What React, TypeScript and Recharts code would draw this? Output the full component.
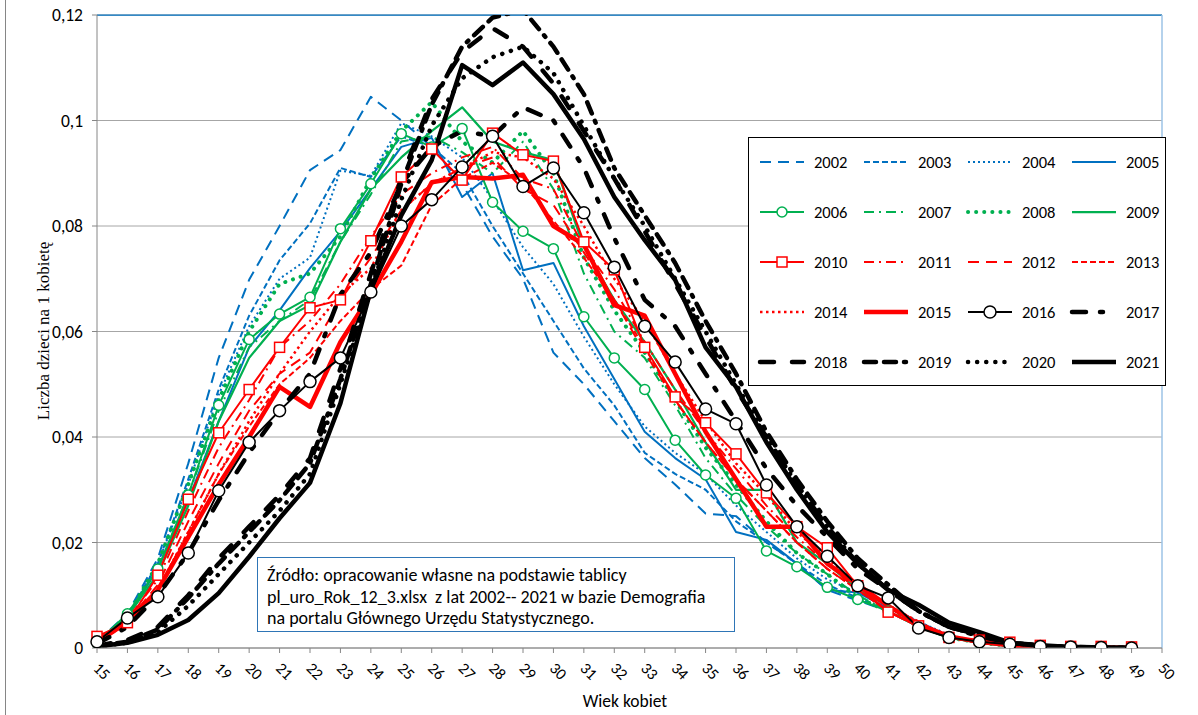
import React from 'react';
import { LineChart, Line, XAxis, YAxis, CartesianGrid, Legend, ReferenceLine } from 'recharts';

// Wiek kobiet (15-49)
const ages = [15, 16, 17, 18, 19, 20, 21, 22, 23, 24, 25, 26, 27, 28, 29, 30, 31, 32, 33, 34, 35, 36, 37, 38, 39, 40, 41, 42, 43, 44, 45, 46, 47, 48, 49];

const xTicks = [15, 16, 17, 18, 19, 20, 21, 22, 23, 24, 25, 26, 27, 28, 29, 30, 31, 32, 33, 34, 35, 36, 37, 38, 39, 40, 41, 42, 43, 44, 45, 46, 47, 48, 49, 50];
const yTicks = [0, 0.02, 0.04, 0.06, 0.08, 0.1, 0.12];

// liczba dzieci na 1 kobietę, per rok
const y2002 = [0.0012, 0.0065, 0.017, 0.035, 0.055, 0.0698, 0.080, 0.0906, 0.0944, 0.1045, 0.100, 0.095, 0.088, 0.078, 0.070, 0.056, 0.050, 0.043, 0.036, 0.031, 0.0255, 0.025, 0.020, 0.016, 0.011, 0.009, 0.007, 0.004, 0.002, 0.0012, 0.0005, 0.0002, 0.0001, 0.0001, 0];
const y2003 = [0.0011, 0.006, 0.016, 0.032, 0.049, 0.063, 0.0735, 0.0805, 0.091, 0.0893, 0.097, 0.095, 0.090, 0.080, 0.071, 0.062, 0.053, 0.046, 0.037, 0.033, 0.030, 0.024, 0.020, 0.016, 0.012, 0.0095, 0.007, 0.004, 0.002, 0.001, 0.0004, 0.0002, 0.0001, 0.0001, 0];
const y2004 = [0.001, 0.006, 0.016, 0.031, 0.048, 0.061, 0.070, 0.074, 0.0905, 0.0895, 0.0995, 0.097, 0.093, 0.085, 0.076, 0.069, 0.059, 0.050, 0.042, 0.037, 0.033, 0.027, 0.022, 0.017, 0.013, 0.0105, 0.008, 0.005, 0.0025, 0.0012, 0.0005, 0.0002, 0.0001, 0.0001, 0];
const y2005 = [0.001, 0.006, 0.015, 0.028, 0.043, 0.057, 0.064, 0.072, 0.079, 0.087, 0.095, 0.0967, 0.0855, 0.090, 0.0716, 0.073, 0.061, 0.051, 0.041, 0.036, 0.032, 0.022, 0.0205, 0.016, 0.011, 0.0105, 0.0075, 0.005, 0.0022, 0.001, 0.0004, 0.0002, 0.0001, 0, 0];
const y2006 = [0.001, 0.0065, 0.015, 0.029, 0.046, 0.0585, 0.0633, 0.0665, 0.0795, 0.088, 0.0975, 0.095, 0.0985, 0.0845, 0.079, 0.0757, 0.0628, 0.055, 0.049, 0.0394, 0.0328, 0.0284, 0.0184, 0.0154, 0.0115, 0.0092, 0.007, 0.004, 0.0019, 0.001, 0.0004, 0.0002, 0.0001, 0.0001, 0];
const y2007 = [0.001, 0.006, 0.015, 0.029, 0.045, 0.057, 0.062, 0.066, 0.077, 0.086, 0.096, 0.097, 0.094, 0.090, 0.096, 0.087, 0.071, 0.060, 0.055, 0.046, 0.036, 0.029, 0.023, 0.018, 0.014, 0.010, 0.007, 0.004, 0.002, 0.001, 0.0004, 0.0002, 0.0001, 0.0001, 0];
const y2008 = [0.001, 0.006, 0.016, 0.031, 0.047, 0.060, 0.069, 0.071, 0.078, 0.089, 0.098, 0.1035, 0.096, 0.092, 0.098, 0.090, 0.074, 0.064, 0.056, 0.047, 0.038, 0.031, 0.024, 0.018, 0.014, 0.0095, 0.007, 0.0045, 0.002, 0.001, 0.0004, 0.0002, 0.0001, 0.0001, 0];
const y2009 = [0.001, 0.006, 0.014, 0.027, 0.043, 0.055, 0.062, 0.065, 0.077, 0.087, 0.093, 0.098, 0.1025, 0.096, 0.094, 0.0925, 0.076, 0.066, 0.058, 0.049, 0.039, 0.030, 0.030, 0.020, 0.016, 0.011, 0.008, 0.004, 0.002, 0.001, 0.0004, 0.0002, 0.0001, 0.0001, 0];
const y2010 = [0.0022, 0.0048, 0.0138, 0.0282, 0.0408, 0.049, 0.057, 0.0645, 0.066, 0.0772, 0.0893, 0.0946, 0.0887, 0.0976, 0.0935, 0.0923, 0.077, 0.0717, 0.057, 0.0476, 0.0427, 0.0368, 0.0294, 0.023, 0.019, 0.0118, 0.0068, 0.0042, 0.002, 0.0015, 0.0011, 0.0005, 0.0003, 0.0003, 0.0002];
const y2011 = [0.0015, 0.0055, 0.013, 0.026, 0.038, 0.047, 0.057, 0.062, 0.069, 0.078, 0.086, 0.090, 0.093, 0.095, 0.089, 0.087, 0.076, 0.068, 0.058, 0.049, 0.041, 0.034, 0.027, 0.021, 0.016, 0.011, 0.007, 0.004, 0.002, 0.001, 0.0005, 0.0002, 0.0001, 0.0001, 0];
const y2012 = [0.0015, 0.005, 0.012, 0.024, 0.035, 0.045, 0.052, 0.056, 0.066, 0.074, 0.083, 0.088, 0.091, 0.093, 0.087, 0.084, 0.075, 0.066, 0.056, 0.047, 0.039, 0.032, 0.026, 0.020, 0.015, 0.011, 0.007, 0.004, 0.002, 0.001, 0.0005, 0.0002, 0.0001, 0.0001, 0];
const y2013 = [0.0012, 0.0045, 0.011, 0.022, 0.033, 0.042, 0.050, 0.055, 0.062, 0.068, 0.0725, 0.084, 0.089, 0.092, 0.088, 0.081, 0.074, 0.066, 0.057, 0.047, 0.039, 0.032, 0.026, 0.020, 0.015, 0.011, 0.007, 0.004, 0.002, 0.001, 0.0005, 0.0002, 0.0001, 0.0001, 0];
const y2014 = [0.0012, 0.0045, 0.011, 0.022, 0.033, 0.043, 0.052, 0.060, 0.067, 0.072, 0.083, 0.088, 0.091, 0.094, 0.093, 0.089, 0.080, 0.070, 0.062, 0.052, 0.043, 0.035, 0.029, 0.022, 0.017, 0.012, 0.008, 0.005, 0.002, 0.0012, 0.0005, 0.0002, 0.0001, 0.0001, 0];
const y2015 = [0.001, 0.005, 0.011, 0.021, 0.031, 0.040, 0.0495, 0.0457, 0.058, 0.067, 0.077, 0.0883, 0.0893, 0.089, 0.0897, 0.080, 0.0765, 0.065, 0.063, 0.052, 0.041, 0.032, 0.023, 0.023, 0.016, 0.012, 0.008, 0.0045, 0.0022, 0.0012, 0.0005, 0.0002, 0.0001, 0.0001, 0];
const y2016 = [0.0012, 0.0057, 0.0097, 0.018, 0.0298, 0.039, 0.045, 0.0505, 0.055, 0.0675, 0.080, 0.085, 0.0912, 0.097, 0.0875, 0.091, 0.0825, 0.0722, 0.061, 0.0542, 0.0453, 0.0425, 0.0309, 0.023, 0.0174, 0.0118, 0.0095, 0.0038, 0.002, 0.0012, 0.0007, 0.0003, 0.0002, 0.0001, 0];
const y2017 = [0.0008, 0.004, 0.010, 0.018, 0.028, 0.037, 0.045, 0.052, 0.067, 0.075, 0.088, 0.095, 0.098, 0.097, 0.1025, 0.100, 0.091, 0.0777, 0.066, 0.061, 0.052, 0.043, 0.034, 0.027, 0.021, 0.015, 0.011, 0.007, 0.004, 0.0022, 0.001, 0.0004, 0.0002, 0.0001, 0];
const y2018 = [0.0004, 0.0015, 0.004, 0.010, 0.017, 0.023, 0.029, 0.036, 0.053, 0.071, 0.089, 0.104, 0.113, 0.1175, 0.114, 0.107, 0.098, 0.089, 0.079, 0.069, 0.059, 0.049, 0.040, 0.031, 0.023, 0.016, 0.011, 0.007, 0.004, 0.0025, 0.001, 0.0004, 0.0002, 0.0001, 0];
const y2019 = [0.0003, 0.0012, 0.0035, 0.0095, 0.016, 0.022, 0.028, 0.035, 0.051, 0.069, 0.088, 0.103, 0.114, 0.1195, 0.121, 0.114, 0.105, 0.091, 0.082, 0.073, 0.062, 0.052, 0.041, 0.032, 0.024, 0.017, 0.012, 0.007, 0.004, 0.0025, 0.001, 0.0004, 0.0002, 0.0001, 0];
const y2020 = [0.0003, 0.001, 0.003, 0.008, 0.014, 0.020, 0.026, 0.033, 0.050, 0.068, 0.085, 0.099, 0.108, 0.112, 0.114, 0.109, 0.099, 0.089, 0.080, 0.070, 0.060, 0.050, 0.040, 0.031, 0.023, 0.016, 0.011, 0.007, 0.004, 0.0025, 0.001, 0.0004, 0.0002, 0.0001, 0];
const y2021 = [0.0003, 0.001, 0.0025, 0.0053, 0.0104, 0.0173, 0.0246, 0.0313, 0.0464, 0.068, 0.082, 0.0925, 0.1105, 0.1067, 0.111, 0.105, 0.0965, 0.0855, 0.0773, 0.0698, 0.057, 0.0495, 0.039, 0.030, 0.022, 0.016, 0.011, 0.0082, 0.0048, 0.003, 0.001, 0.0005, 0.0002, 0.0001, 0];

const BLUE = '#0070c0';
const GREEN = '#00b050';
const RED = '#ff0000';
const BLACK = '#000000';
const FONT = 'Carlito, Calibri, Lato, sans-serif';

interface SeriesDef {
  name: string;
  values: number[];
  color: string;
  width: number;
  dash?: string;
  round?: boolean;
  marker?: 'circle' | 'square';
}

const series: SeriesDef[] = [
  { name: '2002', values: y2002, color: BLUE, width: 2, dash: '11 7' },
  { name: '2003', values: y2003, color: BLUE, width: 2, dash: '6 3' },
  { name: '2004', values: y2004, color: BLUE, width: 2, dash: '2 3' },
  { name: '2005', values: y2005, color: BLUE, width: 2 },
  { name: '2006', values: y2006, color: GREEN, width: 2, marker: 'circle' },
  { name: '2007', values: y2007, color: GREEN, width: 2, dash: '10 5 2 5' },
  { name: '2008', values: y2008, color: GREEN, width: 4, dash: '0.1 8', round: true },
  { name: '2009', values: y2009, color: GREEN, width: 2.25 },
  { name: '2010', values: y2010, color: RED, width: 2, marker: 'square' },
  { name: '2011', values: y2011, color: RED, width: 2, dash: '10 5 2 5' },
  { name: '2012', values: y2012, color: RED, width: 2, dash: '11 7' },
  { name: '2013', values: y2013, color: RED, width: 2, dash: '6 3' },
  { name: '2014', values: y2014, color: RED, width: 2.5, dash: '2.5 3.5' },
  { name: '2015', values: y2015, color: RED, width: 4.5 },
  { name: '2016', values: y2016, color: BLACK, width: 2, marker: 'circle' },
  { name: '2017', values: y2017, color: BLACK, width: 4.5, dash: '14 14 3 14', round: true },
  { name: '2018', values: y2018, color: BLACK, width: 4.5, dash: '14 18', round: true },
  { name: '2019', values: y2019, color: BLACK, width: 4.5, dash: '12 8 12 8 2 8', round: true },
  { name: '2020', values: y2020, color: BLACK, width: 4.5, dash: '0.1 9', round: true },
  { name: '2021', values: y2021, color: BLACK, width: 4.5 },
];

const data = ages.map((age, i) => {
  const row: Record<string, number> = { age };
  series.forEach((s) => {
    row[s.name] = s.values[i];
  });
  return row;
});

const fmtY = (v: number) => String(v).replace('.', ',');

const makeDot = (s: SeriesDef) => {
  if (!s.marker) return false;
  return (props: any) => {
    const { cx, cy, index } = props;
    if (cx == null || cy == null) return <g key={index} />;
    if (s.marker === 'square') {
      return (
        <rect key={index} x={cx - 5} y={cy - 5} width={10} height={10} fill="#fff" stroke={s.color} strokeWidth={1.5} />
      );
    }
    return <circle key={index} cx={cx} cy={cy} r={s.color === BLACK ? 6 : 5} fill="#fff" stroke={s.color} strokeWidth={1.5} />;
  };
};

const XTick = (props: any) => {
  const { x, y, payload } = props;
  const cx = x + 5;
  const cy = y + 16;
  return (
    <text
      x={cx}
      y={cy}
      transform={`rotate(45 ${cx} ${cy})`}
      textAnchor="middle"
      dominantBaseline="central"
      fontFamily={FONT}
      fontSize={16}
      fill="#000"
    >
      {payload.value}
    </text>
  );
};

const renderLegend = () => (
  <svg width={418} height={249} style={{ display: 'block' }}>
    <rect x={0.5} y={0.5} width={417} height={248} fill="#fff" stroke="#000" strokeWidth={1} />
    {series.map((s, i) => {
      const col = i % 4;
      const row = Math.floor(i / 4);
      const x0 = 12 + col * 104;
      const y = 25 + row * 50;
      return (
        <g key={s.name}>
          <line
            x1={x0}
            y1={y}
            x2={x0 + 44}
            y2={y}
            stroke={s.color}
            strokeWidth={s.width}
            strokeDasharray={s.dash}
            strokeLinecap={s.round ? 'round' : 'butt'}
          />
          {s.marker === 'circle' && (
            <circle cx={x0 + 22} cy={y} r={s.color === BLACK ? 6 : 5} fill="#fff" stroke={s.color} strokeWidth={1.5} />
          )}
          {s.marker === 'square' && (
            <rect x={x0 + 17} y={y - 5} width={10} height={10} fill="#fff" stroke={s.color} strokeWidth={1.5} />
          )}
          <text x={x0 + 54} y={y} dominantBaseline="central" fontFamily={FONT} fontSize={16.5} fill="#000">
            {s.name}
          </text>
        </g>
      );
    })}
  </svg>
);

export default function App() {
  return (
    <div style={{ position: 'absolute', left: 0, top: 0, width: 1198, height: 715, background: '#fff' }}>
      <div style={{ position: 'absolute', left: 5, top: 0, width: 1, height: 715, background: '#868686' }} />
      <LineChart width={1198} height={715} data={data} margin={{ top: 15, right: 36, bottom: 0, left: 0 }}>
        <CartesianGrid vertical={false} stroke="#a6a6a6" strokeWidth={1} />
        <XAxis
          dataKey="age"
          type="number"
          domain={[15, 50]}
          ticks={xTicks}
          interval={0}
          tick={<XTick />}
          tickSize={5}
          tickMargin={2}
          axisLine={{ stroke: '#868686' }}
          tickLine={{ stroke: '#868686' }}
          height={67}
          label={() => (
            <text x={625} y={701} textAnchor="middle" dominantBaseline="central" fontFamily={FONT} fontSize={17.5} fill="#000">
              Wiek kobiet
            </text>
          )}
        />
        <YAxis
          type="number"
          domain={[0, 0.12]}
          ticks={yTicks}
          allowDataOverflow
          width={97}
          tickFormatter={fmtY}
          tickSize={5}
          tickMargin={9}
          tick={{ fontFamily: FONT, fontSize: 17.5, fill: '#000' }}
          axisLine={{ stroke: '#868686' }}
          tickLine={{ stroke: '#868686' }}
          label={() => (
            <text
              x={43}
              y={331}
              transform="rotate(-90 43 331)"
              textAnchor="middle"
              dominantBaseline="central"
              fontFamily="'Liberation Serif', 'DejaVu Serif', serif"
              fontSize={17}
              fill="#000"
            >
              Liczba dzieci na 1 kobietę
            </text>
          )}
        />
        <ReferenceLine y={0.12} stroke={BLUE} strokeWidth={1.25} />
        <ReferenceLine x={50} stroke="#9dc3e6" strokeWidth={1.5} />
        {series.map((s) => (
          <Line
            key={s.name}
            type="linear"
            dataKey={s.name}
            name={s.name}
            stroke={s.color}
            strokeWidth={s.width}
            strokeDasharray={s.dash}
            strokeLinecap={s.round ? 'round' : 'butt'}
            strokeLinejoin="round"
            dot={makeDot(s)}
            activeDot={false}
            isAnimationActive={false}
          />
        ))}
        <Legend
          layout="horizontal"
          verticalAlign="middle"
          align="center"
          content={renderLegend}
          wrapperStyle={{ position: 'absolute', left: 748, top: 137, width: 418, height: 249 }}
        />
      </LineChart>
      <div
        style={{
          position: 'absolute',
          left: 257,
          top: 557,
          width: 478,
          height: 75,
          boxSizing: 'border-box',
          border: '1.5px solid #2e75b6',
          background: '#fff',
          padding: '7px 0 0 9px',
          fontFamily: FONT,
          fontSize: 18,
          lineHeight: '21.5px',
          color: '#000',
          whiteSpace: 'pre',
        }}
      >
        {'Źródło: opracowanie własne na podstawie tablicy\npl_uro_Rok_12_3.xlsx  z lat 2002-- 2021 w bazie Demografia\nna portalu Głównego Urzędu Statystycznego.'}
      </div>
    </div>
  );
}
